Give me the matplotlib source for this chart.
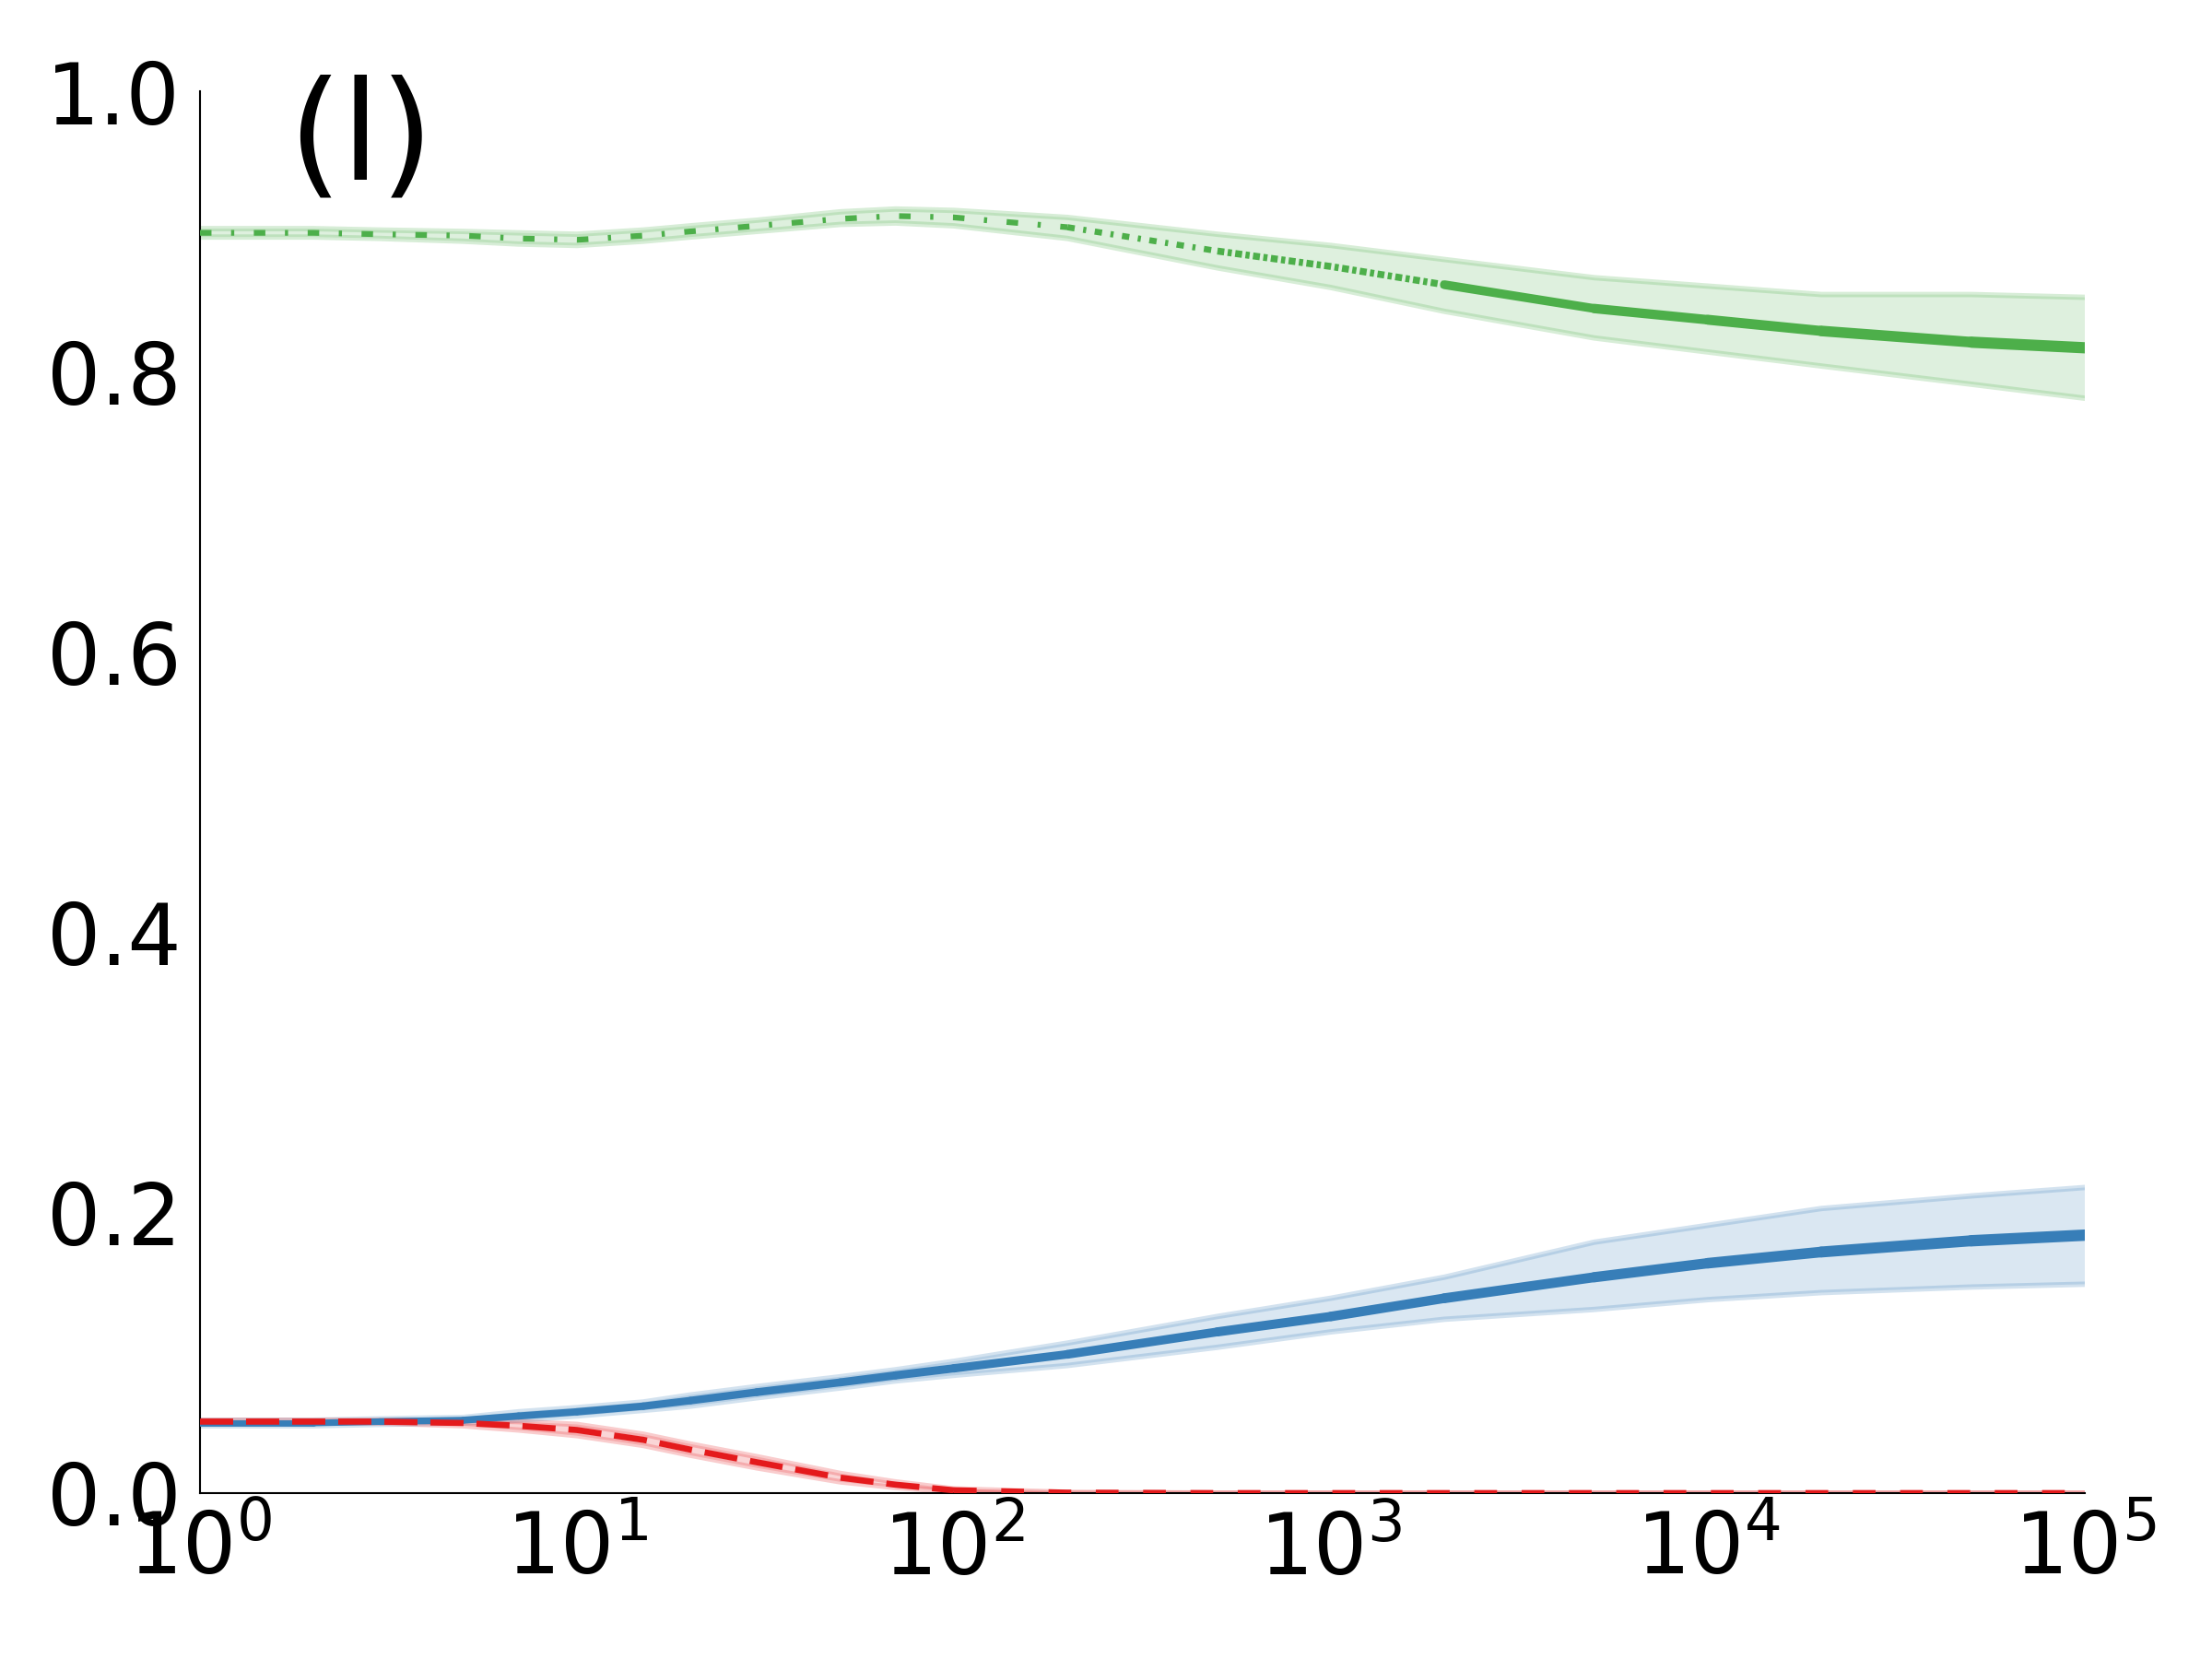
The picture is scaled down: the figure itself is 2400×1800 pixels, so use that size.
import numpy as np
import matplotlib
matplotlib.use("Agg")
import matplotlib.pyplot as plt
from matplotlib.collections import LineCollection

# ---- data ----
x = [1, 2, 3, 5, 7, 10, 15, 20, 30, 50, 70, 100, 200, 500,
     1e3, 2e3, 5e3, 1e4, 2e4, 5e4, 1e5]

green_mean = [.899, .899, .898, .897, .895, .894, .897, .900, .904, .909, .911, .910,
              .903, .886, .875, .862, .845, .837, .829, .821, .817]
green_lo = [.896, .896, .895, .893, .891, .890, .893, .896, .900, .905, .906, .904,
            .895, .874, .860, .843, .824, .814, .804, .791, .781]
green_hi = [.902, .902, .901, .900, .899, .898, .901, .904, .908, .914, .916, .915,
            .910, .898, .890, .880, .867, .861, .855, .855, .853]

blue_mean = [.050, .050, .051, .052, .055, .058, .062, .066, .072, .079, .084, .089,
             .099, .115, .126, .139, .154, .164, .172, .180, .184]
blue_lo = [.048, .048, .049, .050, .052, .055, .059, .062, .068, .075, .080, .084,
           .091, .104, .115, .124, .131, .138, .143, .147, .149]
blue_hi = [.052, .052, .053, .054, .058, .061, .065, .070, .076, .083, .088, .094,
           .107, .126, .139, .154, .179, .191, .203, .212, .218]

red_mean = [.051, .051, .051, .050, .048, .045, .038, .031, .022, .011, .006, .002,
            .0003, 0, 0, 0, 0, 0, 0, 0, 0]
red_lo = [.050, .050, .050, .048, .045, .041, .034, .027, .018, .008, .004, .001,
          0, 0, 0, 0, 0, 0, 0, 0, 0]
red_hi = [.052, .052, .052, .052, .051, .049, .042, .035, .026, .014, .008, .003,
          .0006, 0, 0, 0, 0, 0, 0, 0, 0]

yticks = [0.0, 0.2, 0.4, 0.6, 0.8, 1.0]
ytick_labels = ["0.0", "0.2", "0.4", "0.6", "0.8", "1.0"]
xticks = [1, 10, 100, 1000, 10000, 100000]
xtick_labels = [r"$10^{0}$", r"$10^{1}$", r"$10^{2}$", r"$10^{3}$", r"$10^{4}$", r"$10^{5}$"]
panel_label = "(l)"

GREEN = "#4daf4a"
BLUE = "#377eb8"
RED = "#e41a1c"

plt.rcParams['font.family'] = ['DejaVu Sans']
plt.rcParams['mathtext.fontset'] = 'dejavusans'

xa = np.array(x, dtype=float)
fig = plt.figure(figsize=(8, 6), dpi=300)
ax = fig.add_axes([0.0904, 0.1, 0.8521, 0.845])
ax.set_xscale('log')


def band(lo, hi, color):
    ax.fill_between(xa, lo, hi, facecolor=color, alpha=0.18, linewidth=0, zorder=1)
    ax.plot(xa, lo, color=color, alpha=0.22, lw=1.4, zorder=1)
    ax.plot(xa, hi, color=color, alpha=0.22, lw=1.4, zorder=1)


def varwidth(xs, ys, w0, w1, color, z):
    pts = np.column_stack([xs, ys])
    segs = np.stack([pts[:-1], pts[1:]], axis=1)
    lx = np.log10(xs)
    mid = 0.5 * (lx[:-1] + lx[1:])
    t = (mid - lx[0]) / (lx[-1] - lx[0])
    lws = w0 + (w1 - w0) * t
    lc = LineCollection(segs, colors=color, linewidths=lws, capstyle='round',
                        joinstyle='round', zorder=z)
    ax.add_collection(lc)


band(green_lo, green_hi, GREEN)
band(blue_lo, blue_hi, BLUE)
band(red_lo, red_hi, RED)

gm = np.array(green_mean)
# green: dash-dot at small x, denser in the middle, solid at large x
i200 = x.index(200)
i500 = x.index(500)
i2000 = x.index(2e3)
ax.plot(xa[:i200 + 1], gm[:i200 + 1], color=GREEN, lw=1.5,
        dashes=(2.0, 3.4, 0.55, 3.4), zorder=3)
ax.plot(xa[i200:i500 + 1], gm[i200:i500 + 1], color=GREEN, lw=1.6,
        dashes=(1.2, 1.4, 0.5, 1.4), zorder=3)
ax.plot(xa[i500:i2000 + 1], gm[i500:i2000 + 1], color=GREEN, lw=1.8,
        dashes=(1.0, 0.5, 0.6, 0.5), zorder=3)
varwidth(xa[i2000:], gm[i2000:], 2.2, 3.0, GREEN, 3)

# blue: solid
varwidth(xa, np.array(blue_mean), 1.6, 3.0, BLUE, 4)

# red: dashed
rm = np.array(red_mean)
i100 = x.index(100)
ax.plot(xa[:i100 + 1], rm[:i100 + 1], color=RED, lw=1.6, dashes=(5.4, 2.1), zorder=5)
ax.plot(xa[i100:], rm[i100:], color=RED, lw=1.6, dashes=(3.7, 4.0), zorder=5)

ax.set_xlim(1, 1e5)
ax.set_ylim(0, 1)
ax.set_xticks(xticks)
ax.set_xticklabels(xtick_labels)
ax.set_yticks(yticks)
ax.set_yticklabels(ytick_labels)
ax.minorticks_off()
ax.tick_params(axis='both', length=0, labelsize=22)
ax.tick_params(axis='y', pad=5)
ax.tick_params(axis='x', pad=4)

for s in ['top', 'right']:
    ax.spines[s].set_visible(False)
for s in ['left', 'bottom']:
    ax.spines[s].set_linewidth(0.5)
    ax.spines[s].set_color('black')

ax.text(0.0465, 0.937, panel_label, transform=ax.transAxes, fontsize=36,
        ha='left', va='baseline', clip_on=False)

fig.savefig("out.png", dpi=300)
